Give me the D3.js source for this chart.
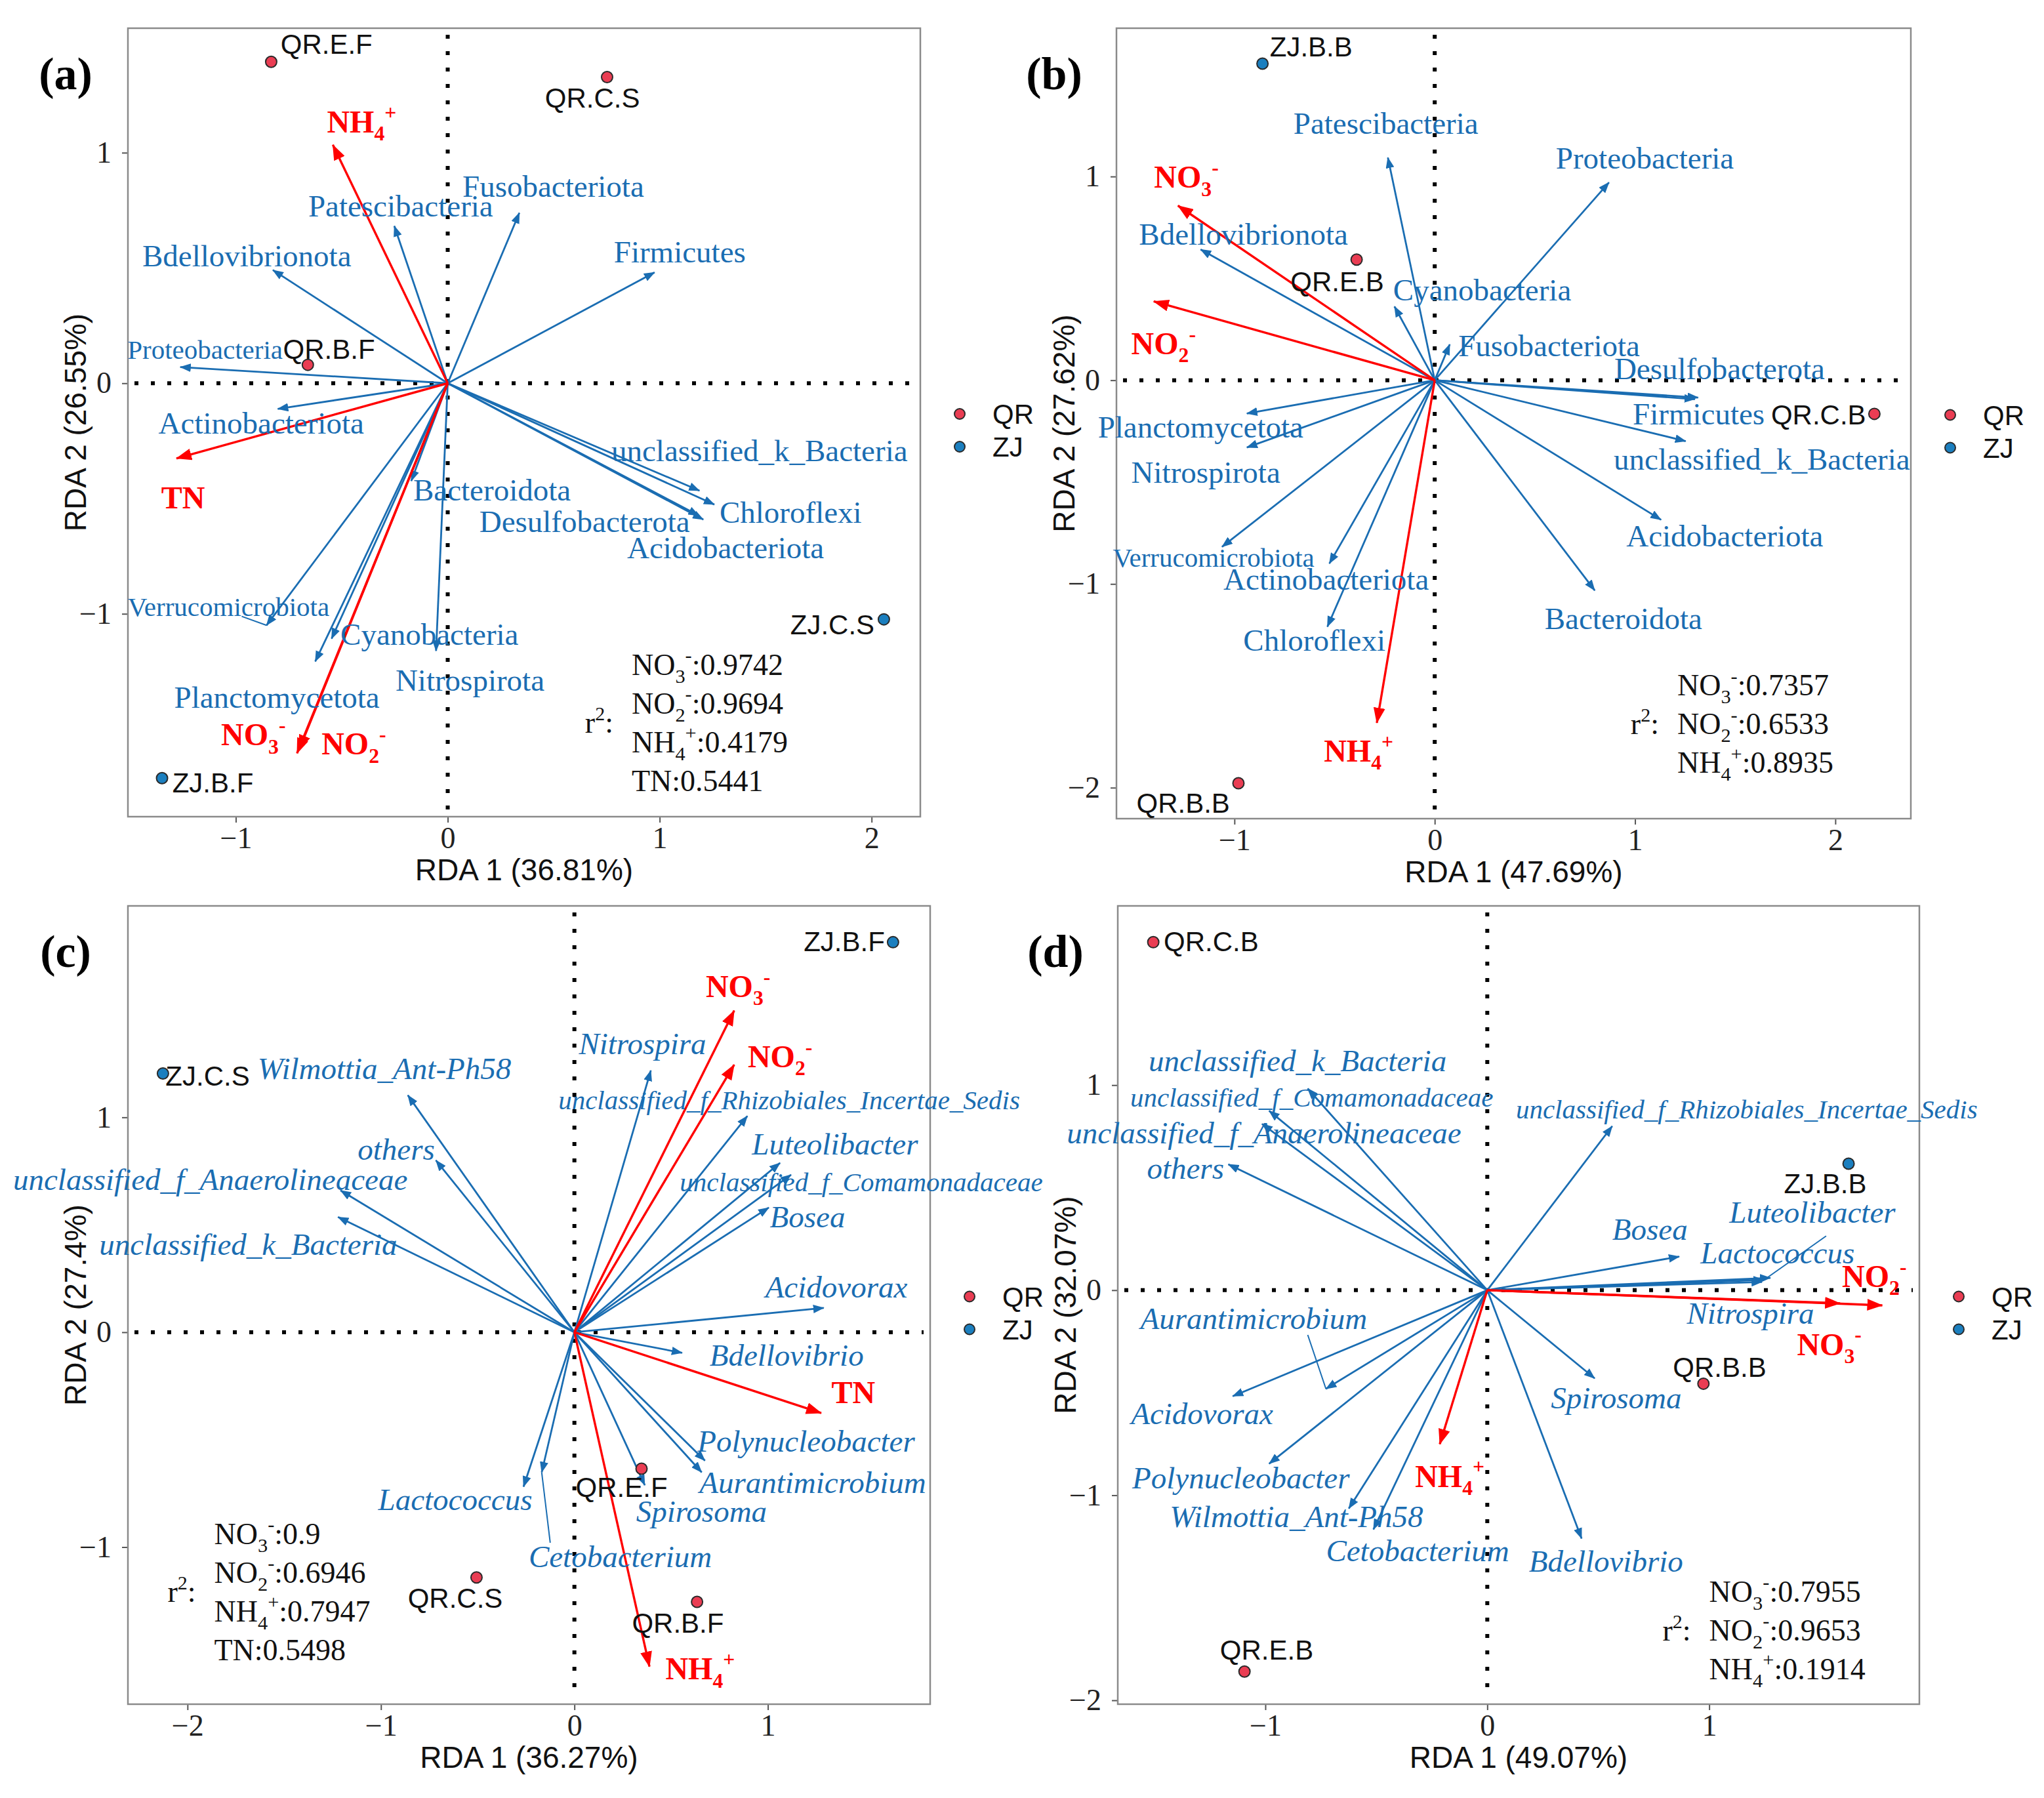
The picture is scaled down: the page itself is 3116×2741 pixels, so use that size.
<!DOCTYPE html>
<html>
<head>
<meta charset="utf-8">
<script src="https://cdn.jsdelivr.net/npm/d3@7"></script>
<style>
  body { margin: 0; background: #fff; }
</style>
</head>
<body>
<svg id="fig"></svg>
<script>
// ---------------------------------------------------------------
// Data (species scores, env arrows,
// sample scores, label spots and r2 values). All in RDA units.
// ---------------------------------------------------------------
const groups = ["QR", "ZJ"];

// (a)
const aSpecies = [
  {name: "Patescibacteria", x: -0.252, y: 0.682, lx: -0.222, ly: 0.767},
  {name: "Fusobacteriota", x: 0.338, y: 0.739, lx: 0.498, ly: 0.852},
  {name: "Firmicutes", x: 0.976, y: 0.481, lx: 1.095, ly: 0.568},
  {name: "Bdellovibrionota", x: -0.825, y: 0.491, lx: -0.948, ly: 0.551},
  {name: "Proteobacteria", x: -1.262, y: 0.07, lx: -1.145, ly: 0.148},
  {name: "Actinobacteriota", x: -0.802, y: -0.111, lx: -0.88, ly: -0.176},
  {name: "unclassified_k_Bacteria", x: 1.188, y: -0.466, lx: 1.471, ly: -0.295},
  {name: "Chloroflexi", x: 1.258, y: -0.526, lx: 1.618, ly: -0.563},
  {name: "Desulfobacterota", x: 1.185, y: -0.574, lx: 0.646, ly: -0.602},
  {name: "Acidobacteriota", x: 1.206, y: -0.591, lx: 1.311, ly: -0.716},
  {name: "Bacteroidota", x: -0.172, y: -0.424, lx: 0.209, ly: -0.466},
  {name: "Verrucomicrobiota", x: -0.855, y: -1.05, lx: -1.034, ly: -0.966, sx: -0.972, sy: -1.011},
  {name: "Cyanobacteria", x: -0.548, y: -1.108, lx: -0.086, ly: -1.091},
  {name: "Planctomycetota", x: -0.625, y: -1.207, lx: -0.806, ly: -1.364},
  {name: "Nitrospirota", x: -0.055, y: -1.161, lx: 0.105, ly: -1.29}
];
const aEnv = [
  {name: "NH4+", x: -0.542, y: 1.034, lx: -0.406, ly: 1.131},
  {name: "TN", x: -1.28, y: -0.326, lx: -1.249, ly: -0.5},
  {name: "NO3-", x: -0.711, y: -1.605, lx: -0.917, ly: -1.528},
  {name: "NO2-", x: -0.702, y: -1.591, lx: -0.443, ly: -1.568}
];
const aSamples = [
  {name: "QR.E.F", group: "QR", x: -0.833, y: 1.394, lx: -0.572, ly: 1.472},
  {name: "QR.C.S", group: "QR", x: 0.752, y: 1.328, lx: 0.683, ly: 1.239},
  {name: "QR.B.F", group: "QR", x: -0.66, y: 0.08, lx: -0.56, ly: 0.148},
  {name: "ZJ.C.S", group: "ZJ", x: 2.058, y: -1.024, lx: 1.815, ly: -1.045},
  {name: "ZJ.B.F", group: "ZJ", x: -1.348, y: -1.713, lx: -1.108, ly: -1.733}
];
const aR2 = [["NO3-", "0.9742"], ["NO2-", "0.9694"], ["NH4+", "0.4179"], ["TN", "0.5441"]];
const aTicksX = [-1, 0, 1, 2];
const aTicksY = [-1, 0, 1];

// (b)
const bSpecies = [
  {name: "Patescibacteria", x: -0.234, y: 1.093, lx: -0.244, ly: 1.258},
  {name: "Proteobacteria", x: 0.870, y: 0.971, lx: 1.049, ly: 1.086},
  {name: "Bdellovibrionota", x: -1.169, y: 0.642, lx: -0.955, ly: 0.713},
  {name: "Cyanobacteria", x: -0.201, y: 0.362, lx: 0.237, ly: 0.441},
  {name: "Fusobacteriota", x: 0.075, y: 0.176, lx: 0.571, ly: 0.165},
  {name: "Desulfobacterota", x: 1.315, y: -0.085, lx: 1.422, ly: 0.054},
  {name: "Firmicutes", x: 1.299, y: -0.093, lx: 1.318, ly: -0.168},
  {name: "unclassified_k_Bacteria", x: 1.253, y: -0.299, lx: 1.633, ly: -0.39},
  {name: "Acidobacteriota", x: 1.13, y: -0.685, lx: 1.448, ly: -0.767},
  {name: "Bacteroidota", x: 0.799, y: -1.032, lx: 0.942, ly: -1.173},
  {name: "Chloroflexi", x: -0.536, y: -1.21, lx: -0.601, ly: -1.279},
  {name: "Actinobacteriota", x: -0.526, y: -0.9, lx: -0.542, ly: -0.981},
  {name: "Verrucomicrobiota", x: -1.062, y: -0.818, lx: -1.104, ly: -0.866},
  {name: "Nitrospirota", x: -0.938, y: -0.33, lx: -1.143, ly: -0.456},
  {name: "Planctomycetota", x: -0.938, y: -0.163, lx: -1.169, ly: -0.232}
];
const bEnv = [
  {name: "NO3-", x: -1.282, y: 0.857, lx: -1.24, ly: 0.993},
  {name: "NO2-", x: -1.403, y: 0.387, lx: -1.354, ly: 0.176},
  {name: "NH4+", x: -0.289, y: -1.682, lx: -0.38, ly: -1.823}
];
const bSamples = [
  {name: "ZJ.B.B", group: "ZJ", x: -0.86, y: 1.554, lx: -0.617, ly: 1.637},
  {name: "QR.E.B", group: "QR", x: -0.39, y: 0.592, lx: -0.487, ly: 0.484},
  {name: "QR.C.B", group: "QR", x: 2.195, y: -0.165, lx: 1.916, ly: -0.168},
  {name: "QR.B.B", group: "QR", x: -0.98, y: -1.978, lx: -1.256, ly: -2.074}
];
const bR2 = [["NO3-", "0.7357"], ["NO2-", "0.6533"], ["NH4+", "0.8935"]];
const bTicksX = [-1, 0, 1, 2];
const bTicksY = [-2, -1, 0, 1];

// (c)
const cSpecies = [
  {name: "Nitrospira", x: 0.395, y: 1.218, lx: 0.352, ly: 1.339},
  {name: "unclassified_f_Rhizobiales_Incertae_Sedis", x: 0.894, y: 1.006, lx: 1.11, ly: 1.085},
  {name: "Luteolibacter", x: 1.063, y: 0.788, lx: 1.347, ly: 0.873},
  {name: "unclassified_f_Comamonadaceae", x: 1.12, y: 0.733, lx: 1.483, ly: 0.703},
  {name: "Bosea", x: 1.005, y: 0.58, lx: 1.205, ly: 0.533},
  {name: "Acidovorax", x: 1.289, y: 0.113, lx: 1.354, ly: 0.206},
  {name: "Wilmottia_Ant-Ph58", x: -0.861, y: 1.103, lx: -0.982, ly: 1.224},
  {name: "others", x: -0.716, y: 0.80, lx: -0.921, ly: 0.848},
  {name: "unclassified_f_Anaerolineaceae", x: -1.209, y: 0.66, lx: -1.882, ly: 0.709},
  {name: "unclassified_k_Bacteria", x: -1.222, y: 0.536, lx: -1.686, ly: 0.406},
  {name: "Bdellovibrio", x: 0.557, y: -0.096, lx: 1.097, ly: -0.109},
  {name: "Polynucleobacter", x: 0.675, y: -0.598, lx: 1.198, ly: -0.509},
  {name: "Aurantimicrobium", x: 0.658, y: -0.652, lx: 1.232, ly: -0.703},
  {name: "Spirosoma", x: 0.364, y: -0.712, lx: 0.657, ly: -0.836},
  {name: "Lactococcus", x: -0.263, y: -0.719, lx: -0.616, ly: -0.782},
  {name: "Cetobacterium", x: -0.169, y: -0.652, lx: 0.237, ly: -1.048, sx: -0.125, sy: -0.98}
];
const cEnv = [
  {name: "NO3-", x: 0.826, y: 1.497, lx: 0.846, ly: 1.606},
  {name: "NO2-", x: 0.826, y: 1.245, lx: 1.063, ly: 1.279},
  {name: "TN", x: 1.276, y: -0.376, lx: 1.442, ly: -0.285},
  {name: "NH4+", x: 0.388, y: -1.556, lx: 0.65, ly: -1.57}
];
const cSamples = [
  {name: "ZJ.B.F", group: "ZJ", x: 1.647, y: 1.815, lx: 1.395, ly: 1.818},
  {name: "ZJ.C.S", group: "ZJ", x: -2.127, y: 1.204, lx: -1.896, ly: 1.194},
  {name: "QR.E.F", group: "QR", x: 0.347, y: -0.635, lx: 0.244, ly: -0.721},
  {name: "QR.C.S", group: "QR", x: -0.506, y: -1.141, lx: -0.616, ly: -1.236},
  {name: "QR.B.F", group: "QR", x: 0.634, y: -1.255, lx: 0.535, ly: -1.352}
];
const cR2 = [["NO3-", "0.9"], ["NO2-", "0.6946"], ["NH4+", "0.7947"], ["TN", "0.5498"]];
const cTicksX = [-2, -1, 0, 1];
const cTicksY = [-1, 0, 1];

// (d)
const dSpecies = [
  {name: "unclassified_k_Bacteria", x: -0.809, y: 0.983, lx: -0.855, ly: 1.115},
  {name: "unclassified_f_Comamonadaceae", x: -0.983, y: 0.875, lx: -0.791, ly: 0.943},
  {name: "unclassified_f_Anaerolineaceae", x: -1.015, y: 0.811, lx: -1.006, ly: 0.764},
  {name: "others", x: -1.167, y: 0.614, lx: -1.36, ly: 0.592},
  {name: "unclassified_f_Rhizobiales_Incertae_Sedis", x: 0.563, y: 0.80, lx: 1.169, ly: 0.885},
  {name: "Bosea", x: 0.865, y: 0.164, lx: 0.733, ly: 0.293},
  {name: "Lactococcus", x: 1.276, y: 0.06, lx: 1.308, ly: 0.178},
  {name: "Luteolibacter", x: 1.247, y: 0.05, lx: 1.465, ly: 0.376, sx: 1.527, sy: 0.264},
  {name: "Nitrospira", x: 1.238, y: 0.04, lx: 1.186, ly: -0.115},
  {name: "Aurantimicrobium", x: -0.727, y: -0.481, lx: -1.052, ly: -0.14, sx: -0.809, sy: -0.218},
  {name: "Acidovorax", x: -1.147, y: -0.517, lx: -1.285, ly: -0.605},
  {name: "Polynucleobacter", x: -0.983, y: -0.846, lx: -1.11, ly: -0.917},
  {name: "Wilmottia_Ant-Ph58", x: -0.624, y: -1.065, lx: -0.86, ly: -1.108},
  {name: "Cetobacterium", x: -0.513, y: -1.167, lx: -0.314, ly: -1.274},
  {name: "Spirosoma", x: 0.484, y: -0.43, lx: 0.581, ly: -0.529},
  {name: "Bdellovibrio", x: 0.425, y: -1.211, lx: 0.535, ly: -1.325}
];
const dEnv = [
  {name: "NO2-", x: 1.78, y: -0.074, lx: 1.744, ly: 0.064},
  {name: "NO3-", x: 1.59, y: -0.064, lx: 1.541, ly: -0.268},
  {name: "NH4+", x: -0.214, y: -0.751, lx: -0.169, ly: -0.911}
];
const dSamples = [
  {name: "QR.C.B", group: "QR", x: -1.505, y: 1.697, lx: -1.244, ly: 1.70},
  {name: "ZJ.B.B", group: "ZJ", x: 1.628, y: 0.617, lx: 1.523, ly: 0.522},
  {name: "QR.B.B", group: "QR", x: 0.974, y: -0.456, lx: 1.047, ly: -0.376},
  {name: "QR.E.B", group: "QR", x: -1.094, y: -1.86, lx: -0.994, ly: -1.752}
];
const dR2 = [["NO3-", "0.7955"], ["NO2-", "0.9653"], ["NH4+", "0.1914"]];
const dTicksX = [-1, 0, 1];
const dTicksY = [-2, -1, 0, 1];

// ---------------------------------------------------------------
// Layout / style
// ---------------------------------------------------------------
const W = 3116, H = 2741;
const SERIF = "'Liberation Serif','Times New Roman',Times,serif";
const SANS = "'Liberation Sans',Arial,Helvetica,sans-serif";
const BLUE = "#1a6db2";
const RED = "#ff0000";
const dotFill = {QR: "#ea3d53", ZJ: "#1b7fbf"};

const panels = [
  {tag: "(a)", box: [195, 43, 1403, 1245], xDom: [-1.509, 2.23], yDom: [-1.88, 1.54],
   xTicks: aTicksX, yTicks: aTicksY, xTitle: "RDA 1 (36.81%)", yTitle: "RDA 2 (26.55%)",
   species: aSpecies, env: aEnv, samples: aSamples, r2: aR2, r2At: [0.868, -1.222],
   italic: false, small: ["Proteobacteria", "Verrucomicrobiota"]},
  {tag: "(b)", box: [1702, 43, 2913, 1248], xDom: [-1.589, 2.377], yDom: [-2.152, 1.728],
   xTicks: bTicksX, yTicks: bTicksY, xTitle: "RDA 1 (47.69%)", yTitle: "RDA 2 (27.62%)",
   species: bSpecies, env: bEnv, samples: bSamples, r2: bR2, r2At: [1.211, -1.498],
   italic: false, small: ["Verrucomicrobiota"]},
  {tag: "(c)", box: [195, 1381, 1418, 2598], xDom: [-2.308, 1.839], yDom: [-1.731, 1.984],
   xTicks: cTicksX, yTicks: cTicksY, xTitle: "RDA 1 (36.27%)", yTitle: "RDA 2 (27.4%)",
   species: cSpecies, env: cEnv, samples: cSamples, r2: cR2, r2At: [-1.862, -0.939],
   italic: true, small: ["unclassified_f_Rhizobiales_Incertae_Sedis", "unclassified_f_Comamonadaceae"]},
  {tag: "(d)", box: [1704, 1381, 2926, 2598], xDom: [-1.665, 1.947], yDom: [-2.019, 1.874],
   xTicks: dTicksX, yTicks: dTicksY, xTitle: "RDA 1 (49.07%)", yTitle: "RDA 2 (32.07%)",
   species: dSpecies, env: dEnv, samples: dSamples, r2: dR2, r2At: [1.0, -1.471],
   italic: true, small: ["unclassified_f_Rhizobiales_Incertae_Sedis", "unclassified_f_Comamonadaceae"]}
];

// sub/superscript pieces of the chemistry labels (0 normal, 1 sub, 2 sup)
const chemParts = {
  "NO3-": [["NO", 0], ["3", 1], ["-", 2]],
  "NO2-": [["NO", 0], ["2", 1], ["-", 2]],
  "NH4+": [["NH", 0], ["4", 1], ["+", 2]],
  "TN": [["TN", 0]]
};

const svg = d3.select("#fig")
  .attr("width", W).attr("height", H)
  .attr("viewBox", `0 0 ${W} ${H}`);
svg.append("rect").attr("width", W).attr("height", H).attr("fill", "#fff");

// arrow heads
const defs = svg.append("defs");
[["blue", BLUE, 17, 6.5], ["red", RED, 24, 9]].forEach(([id, col, L, w]) => {
  defs.append("marker")
    .attr("id", "head-" + id)
    .attr("markerUnits", "userSpaceOnUse")
    .attr("viewBox", `0 ${-w} ${L} ${2 * w}`)
    .attr("markerWidth", L).attr("markerHeight", 2 * w)
    .attr("refX", L - 1).attr("refY", 0)
    .attr("orient", "auto")
    .append("path")
    .attr("d", `M0,${-w}L${L},0L0,${w}Z`)
    .attr("fill", col);
});

const fmtTick = d => d < 0 ? "\u2212" + Math.abs(d) : String(d);

// writes "NO3-" etc. as tspans into a text node, optional tail at baseline
function writeChem(text, label, fs, tail) {
  const parts = chemParts[label] || [[label, 0]];
  let off = 0;
  parts.forEach(([s, k]) => {
    const target = k === 1 ? 0.26 * fs : k === 2 ? -0.42 * fs : 0;
    text.append("tspan")
      .attr("dy", target - off)
      .attr("font-size", k ? fs * 0.66 : fs)
      .text(s);
    off = target;
  });
  if (tail) {
    text.append("tspan").attr("dy", -off).attr("font-size", fs).text(tail);
  }
}

function rdaPanel(p) {
  const [x0, y0, x1, y1] = p.box;
  const x = d3.scaleLinear().domain(p.xDom).range([x0, x1]);
  const y = d3.scaleLinear().domain(p.yDom).range([y1, y0]);
  const g = svg.append("g").attr("class", "panel");

  // axes (ticks outside, frame drawn separately)
  const ax = g.append("g").attr("transform", `translate(0,${y1})`)
    .call(d3.axisBottom(x).tickValues(p.xTicks).tickSize(9).tickPadding(6).tickFormat(fmtTick));
  const ay = g.append("g").attr("transform", `translate(${x0},0)`)
    .call(d3.axisLeft(y).tickValues(p.yTicks).tickSize(9).tickPadding(16).tickFormat(fmtTick));
  [ax, ay].forEach(a => {
    a.select(".domain").remove();
    a.selectAll(".tick line").attr("stroke", "#555").attr("stroke-width", 2);
    a.selectAll(".tick text")
      .attr("font-family", SERIF).attr("font-size", 46).attr("fill", "#222");
  });

  g.append("rect")
    .attr("x", x0).attr("y", y0)
    .attr("width", x1 - x0).attr("height", y1 - y0)
    .attr("fill", "none").attr("stroke", "#8a8a8a").attr("stroke-width", 2.5);

  // dotted zero lines
  const zero = g.append("g")
    .attr("stroke", "#000").attr("stroke-width", 6).attr("stroke-dasharray", "6 19");
  zero.append("line")
    .attr("x1", x0 + 10).attr("x2", x1 - 10)
    .attr("y1", y(0)).attr("y2", y(0));
  zero.append("line")
    .attr("x1", x(0)).attr("x2", x(0))
    .attr("y1", y0 + 10).attr("y2", y1 - 10);

  // species arrows
  g.append("g").selectAll("line")
    .data(p.species)
    .join("line")
    .attr("x1", x(0)).attr("y1", y(0))
    .attr("x2", d => x(d.x)).attr("y2", d => y(d.y))
    .attr("stroke", BLUE).attr("stroke-width", 2.8)
    .attr("marker-end", "url(#head-blue)");

  // label connector segments (repel lines)
  g.append("g").selectAll("line")
    .data(p.species.filter(d => d.sx !== undefined))
    .join("line")
    .attr("x1", d => x(d.x)).attr("y1", d => y(d.y))
    .attr("x2", d => x(d.sx)).attr("y2", d => y(d.sy))
    .attr("stroke", BLUE).attr("stroke-width", 2);

  // environmental arrows
  g.append("g").selectAll("line")
    .data(p.env)
    .join("line")
    .attr("x1", x(0)).attr("y1", y(0))
    .attr("x2", d => x(d.x)).attr("y2", d => y(d.y))
    .attr("stroke", RED).attr("stroke-width", 3.4)
    .attr("marker-end", "url(#head-red)");

  // sample points
  g.append("g").selectAll("circle")
    .data(p.samples)
    .join("circle")
    .attr("cx", d => x(d.x)).attr("cy", d => y(d.y))
    .attr("r", 8.5)
    .attr("fill", d => dotFill[d.group])
    .attr("stroke", "#2a2a2a").attr("stroke-width", 2);

  // species labels
  g.append("g").selectAll("text")
    .data(p.species)
    .join("text")
    .attr("x", d => x(d.lx))
    .attr("y", d => y(d.ly) + 15)
    .attr("text-anchor", "middle")
    .attr("font-family", SERIF)
    .attr("font-style", p.italic ? "italic" : "normal")
    .attr("font-size", d => p.small.includes(d.name) ? 41 : 47)
    .attr("fill", BLUE)
    .text(d => d.name);

  // sample labels
  g.append("g").selectAll("text")
    .data(p.samples)
    .join("text")
    .attr("x", d => x(d.lx))
    .attr("y", d => y(d.ly) + 15)
    .attr("text-anchor", "middle")
    .attr("font-family", SANS).attr("font-size", 42)
    .attr("fill", "#111")
    .text(d => d.name);

  // env labels
  g.append("g").selectAll("text")
    .data(p.env)
    .join("text")
    .attr("x", d => x(d.lx))
    .attr("y", d => y(d.ly) + 15)
    .attr("text-anchor", "middle")
    .attr("font-family", SERIF).attr("font-weight", "bold")
    .attr("fill", RED)
    .each(function(d) { writeChem(d3.select(this), d.name, 48); });

  // r2 block
  const rx = x(p.r2At[0]), ry = y(p.r2At[1]), step = 59;
  const r2g = g.append("g").attr("font-family", SERIF).attr("fill", "#111");
  r2g.selectAll("text.r2line")
    .data(p.r2)
    .join("text")
    .attr("class", "r2line")
    .attr("x", rx)
    .attr("y", (d, i) => ry + i * step + 15)
    .each(function(d) { writeChem(d3.select(this), d[0], 46, ":" + d[1]); });
  const r2lab = r2g.append("text")
    .attr("x", rx - 28)
    .attr("y", ry + (p.r2.length - 1) * step / 2 + 15)
    .attr("text-anchor", "end")
    .attr("font-size", 46);
  r2lab.append("tspan").text("r");
  r2lab.append("tspan").attr("dy", -19).attr("font-size", 30).text("2");
  r2lab.append("tspan").attr("dy", 19).text(":");

  // legend
  const mid = (y0 + y1) / 2;
  const lg = g.append("g").selectAll("g")
    .data(groups)
    .join("g")
    .attr("transform", (d, i) => `translate(${x1 + 60},${mid - 13 + i * 50})`);
  lg.append("circle").attr("r", 8)
    .attr("fill", d => dotFill[d]).attr("stroke", "#2a2a2a").attr("stroke-width", 2);
  lg.append("text")
    .attr("x", 50).attr("y", 15)
    .attr("font-family", SANS).attr("font-size", 42).attr("fill", "#111")
    .text(d => d);

  // axis titles
  g.append("text")
    .attr("x", (x0 + x1) / 2).attr("y", y1 + 97)
    .attr("text-anchor", "middle")
    .attr("font-family", SANS).attr("font-size", 46).attr("fill", "#111")
    .text(p.xTitle);
  g.append("text")
    .attr("transform", `translate(${x0 - 64},${(y0 + y1) / 2}) rotate(-90)`)
    .attr("text-anchor", "middle")
    .attr("font-family", SANS).attr("font-size", 46).attr("fill", "#111")
    .text(p.yTitle);

  // panel tag
  g.append("text")
    .attr("x", x0 - 95).attr("y", y0 + 93)
    .attr("text-anchor", "middle")
    .attr("font-family", SERIF).attr("font-weight", "bold").attr("font-size", 70)
    .attr("fill", "#000")
    .text(p.tag);
}

panels.forEach(rdaPanel);
</script>
</body>
</html>
